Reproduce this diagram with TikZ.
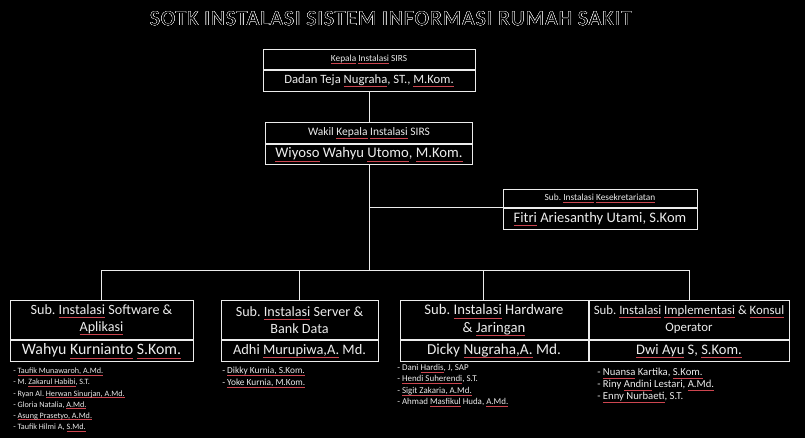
\documentclass[tikz,border=0pt]{standalone}
\usepackage{fontspec}
\setmainfont{Carlito}
\newfontfamily\titlefont[LetterSpace=6]{Carlito}
\usepackage{xcolor}
\usepackage{contour}
\usetikzlibrary{positioning}
\definecolor{bgBlack}{RGB}{0,0,0}
\definecolor{lineWhite}{RGB}{236,236,236}
\definecolor{spellRed}{RGB}{205,70,80}
\contourlength{0.28pt}
\frenchspacing
% red spell-check underline
\newsavebox\splbox
\newcommand\spl[1]{\sbox\splbox{#1}\rlap{\textcolor{spellRed}{\rule[-0.45ex]{\wd\splbox}{0.35pt}}}\usebox\splbox}

\begin{document}
\begin{tikzpicture}[
    x=0.75pt, y=-0.75pt,
    wire/.style={draw=lineWhite, line width=0.7pt},
    cell/.style={rectangle, draw=lineWhite, line width=0.7pt, text=lineWhite, align=center, inner sep=1pt},
    listtxt/.style={text=lineWhite, align=left, inner sep=0pt, anchor=north west}
]
\useasboundingbox (0,0) rectangle (805,438);
\fill[bgBlack] (0,0) rectangle (805,438);

% title
\node[text=black, font=\fontsize{15.9}{17}\selectfont] (title) at (391,19) {\titlefont\contour{lineWhite}{SOTK INSTALASI SISTEM INFORMASI RUMAH SAKIT}};

% kepala & wakil
\node[cell, minimum width=159pt, minimum height=15pt, anchor=north, font=\fontsize{7}{7.5}\selectfont] (kepTop) at (369,49) {\spl{Kepala} \spl{Instalasi} SIRS};
\node[cell, minimum width=159pt, minimum height=15.75pt, below=0pt of kepTop, font=\fontsize{9.5}{10}\selectfont] (kepBot) {Dadan Teja \spl{Nugraha}, ST., \spl{M.Kom.}};

\node[cell, minimum width=155.25pt, minimum height=15.75pt, anchor=north, font=\fontsize{8.6}{9}\selectfont] (wakTop) at (369,122) {Wakil \spl{Kepala} \spl{Instalasi} SIRS};
\node[cell, minimum width=155.25pt, minimum height=15pt, below=0pt of wakTop, font=\fontsize{11}{12}\selectfont] (wakBot) {\spl{Wiyoso} Wahyu \spl{Utomo}, \spl{M.Kom.}};

% kesekretariatan
\node[cell, minimum width=145.5pt, minimum height=13.5pt, anchor=north, font=\fontsize{7}{7.5}\selectfont] (sekTop) at (600,189) {Sub. \spl{Instalasi} \spl{Kesekretariatan}};
\node[cell, minimum width=145.5pt, minimum height=15.75pt, below=0pt of sekTop, font=\fontsize{10.9}{11.5}\selectfont] (sekBot) {\spl{Fitri} Ariesanthy Utami, S.Kom};

% sub instalasi
\node[cell, minimum width=137.25pt, minimum height=29.25pt, anchor=north, font=\fontsize{10.6}{12.8}\selectfont] (swTop) at (101.5,300) {Sub. \spl{Instalasi} Software \&\\ \spl{Aplikasi}};
\node[cell, minimum width=137.25pt, minimum height=15.75pt, below=0pt of swTop, font=\fontsize{11.9}{12.5}\selectfont] (swBot) {Wahyu \spl{Kurnianto} \spl{S.Kom.}};

\node[cell, minimum width=117.75pt, minimum height=29.25pt, anchor=north, font=\fontsize{10.6}{12.8}\selectfont] (svTop) at (299.5,300) {Sub. \spl{Instalasi} Server \&\\ Bank Data};
\node[cell, minimum width=117.75pt, minimum height=15.75pt, below=0pt of svTop, font=\fontsize{10.8}{11.5}\selectfont] (svBot) {Adhi \spl{Murupiwa,A.} Md.};

\node[cell, minimum width=141pt, minimum height=29.25pt, anchor=north, font=\fontsize{11}{12.8}\selectfont] (hwTop) at (494,300) {Sub. \spl{Instalasi} Hardware\\ \& \spl{Jaringan}};
\node[cell, minimum width=141pt, minimum height=15.75pt, below=0pt of hwTop, font=\fontsize{11.4}{12}\selectfont] (hwBot) {Dicky \spl{Nugraha,A.} Md.};

\node[cell, minimum width=150pt, minimum height=29.25pt, anchor=north, font=\fontsize{9.6}{12.8}\selectfont] (imTop) at (689,300) {Sub. \spl{Instalasi} \spl{Implementasi} \& \spl{Konsul}\\ Operator};
\node[cell, minimum width=150pt, minimum height=15.75pt, below=0pt of imTop, font=\fontsize{10.9}{11.5}\selectfont] (imBot) {\spl{Dwi Ayu} S, \spl{S.Kom.}};

% staff lists
\node[listtxt, font=\fontsize{6.1}{8.3}\selectfont] (swList) at (13,368) {- \spl{Taufik Munawaroh, A.Md.}\\ - M. \spl{Zakarul Habibi}, S.T.\\ - Ryan Al. \spl{Herwan Sinurjan, A.Md.}\\ - Gloria Natalia, \spl{A.Md.}\\ - \spl{Asung Prasetyo, A.Md.}\\ - Taufik Hilmi A, \spl{S.Md.}};
\node[listtxt, font=\fontsize{7}{8.8}\selectfont] (svList) at (222,367) {- \spl{Dikky Kurnia, S.Kom.}\\ - \spl{Yoke Kurnia, M.Kom.}};
\node[listtxt, font=\fontsize{6.7}{8.6}\selectfont] (hwList) at (397,364) {- Dani \spl{Hardis}, J, SAP\\ - \spl{Hendi Suherendi}, S.T.\\ - \spl{Sigit Zakaria, A.Md.}\\ - Ahmad \spl{Masfikul} Huda, \spl{A.Md.}};
\node[listtxt, font=\fontsize{8}{9}\selectfont] (imList) at (597,368) {- \spl{Nuansa} Kartika, \spl{S.Kom.}\\ - Riny \spl{Andini} Lestari, \spl{A.Md.}\\ - \spl{Enny Nurbaeti}, S.T.};

% connectors
\coordinate (hub) at (wakBot.south |- 0,270);
\coordinate (hwDrop) at (483,270);
\draw[wire] (kepBot.south) -- (kepBot.south |- wakTop.north);
\draw[wire] (wakBot.south) -- (hub);
\draw[wire] (wakBot.south |- sekTop.south west) -- (sekTop.south west);
\draw[wire] (swTop.north |- hub) -- (imTop.north |- hub);
\draw[wire] (swTop.north |- hub) -- (swTop.north);
\draw[wire] (svTop.north |- hub) -- (svTop.north);
\draw[wire] (hwDrop) -- (hwDrop |- hwTop.north);
\draw[wire] (imTop.north |- hub) -- (imTop.north);
\end{tikzpicture}
\end{document}
